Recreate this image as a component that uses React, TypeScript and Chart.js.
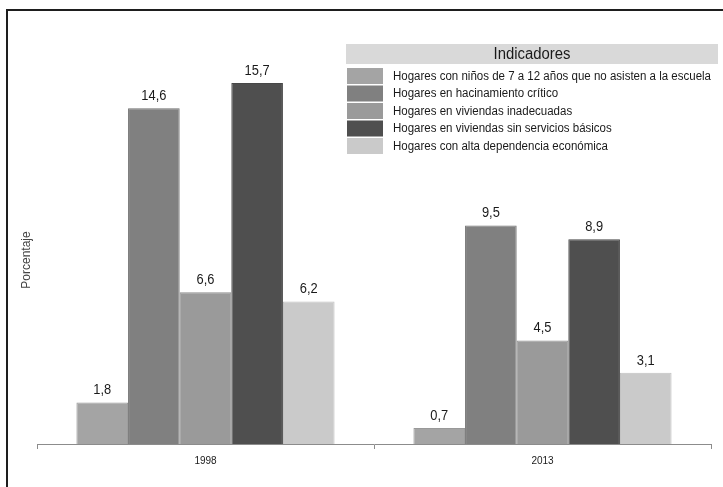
import React, { useEffect, useRef } from "react";
import { Chart, registerables } from "chart.js";

Chart.register(...registerables);

const categories = ["1998", "2013"];
const seriesLabels = [
  "Hogares con niños de 7 a 12 años que no asisten a la escuela",
  "Hogares en hacinamiento crítico",
  "Hogares en viviendas inadecuadas",
  "Hogares en viviendas sin servicios básicos",
  "Hogares con alta dependencia económica",
];
const ninosEscuela = [1.8, 0.7];
const hacinamiento = [14.6, 9.5];
const inadecuadas = [6.6, 4.5];
const sinServicios = [15.7, 8.9];
const dependencia = [6.2, 3.1];
const seriesColors = ["#a4a4a4", "#808080", "#9a9a9a", "#4f4f4f", "#cacaca"];
const seriesBorders = ["#999999", "#707070", "#8e8e8e", "#474747", "#c0c0c0"];
const legendTitle = "Indicadores";
const yTitle = "Porcentaje";

const FONT = "'Liberation Sans', Arial, sans-serif";

function drawCondensed(ctx: CanvasRenderingContext2D, text: string, x: number, y: number, sx: number, align: "left" | "center") {
  ctx.save();
  ctx.translate(x, y);
  ctx.scale(sx, 1);
  ctx.textAlign = align;
  ctx.fillText(text, 0, 0);
  ctx.restore();
}

const framePlugin = {
  id: "frame",
  beforeDraw(chart: any) {
    const ctx = chart.ctx;
    ctx.save();
    ctx.fillStyle = "#ffffff";
    ctx.fillRect(0, 0, chart.width, chart.height);
    ctx.fillStyle = "#1e1e1e";
    ctx.fillRect(6, 9, chart.width - 6, 2);
    ctx.fillRect(6, 9, 2, chart.height - 9);
    ctx.restore();
  },
};

const labelsPlugin = {
  id: "valueLabels",
  afterDatasetsDraw(chart: any) {
    const ctx = chart.ctx;
    ctx.save();
    ctx.font = `14px ${FONT}`;
    ctx.fillStyle = "#1a1a1a";
    ctx.textBaseline = "bottom";
    chart.data.datasets.forEach((ds: any, i: number) => {
      const meta = chart.getDatasetMeta(i);
      meta.data.forEach((bar: any, j: number) => {
        const v = ds.data[j];
        drawCondensed(ctx, String(v).replace(".", ","), bar.x, bar.y - 5, 0.92, "center");
      });
    });
    ctx.restore();
  },
};

const legendPlugin = {
  id: "customLegend",
  afterDraw(chart: any) {
    const ctx = chart.ctx;
    const x0 = 346;
    const x1 = 718;
    ctx.save();
    ctx.fillStyle = "#d9d9d9";
    ctx.fillRect(x0, 44, x1 - x0, 20);
    ctx.fillStyle = "#1a1a1a";
    ctx.font = `16px ${FONT}`;
    ctx.textBaseline = "middle";
    drawCondensed(ctx, legendTitle, (x0 + x1) / 2, 55, 0.93, "center");
    ctx.font = `12.5px ${FONT}`;
    let maxW = 0;
    chart.data.datasets.forEach((ds: any) => {
      maxW = Math.max(maxW, ctx.measureText(ds.label).width);
    });
    const sx = Math.min(1, 318 / maxW);
    chart.data.datasets.forEach((ds: any, i: number) => {
      const top = 68 + i * 17.5;
      ctx.fillStyle = ds.backgroundColor;
      ctx.fillRect(347, top, 36, 16);
      ctx.fillStyle = "#1a1a1a";
      drawCondensed(ctx, ds.label, 393, top + 8.5, sx, "left");
    });
    ctx.restore();
  },
};

export default function App() {
  const ref = useRef<HTMLCanvasElement | null>(null);
  useEffect(() => {
    document.body.style.margin = "0";
    const values = [ninosEscuela, hacinamiento, inadecuadas, sinServicios, dependencia];
    const chart = new Chart(ref.current as HTMLCanvasElement, {
      type: "bar",
      data: {
        labels: categories,
        datasets: values.map((d, i) => ({
          label: seriesLabels[i],
          data: d,
          backgroundColor: seriesColors[i],
          borderColor: seriesBorders[i],
          borderWidth: 1,
          categoryPercentage: 0.766,
          barPercentage: 1,
        })),
      },
      options: {
        animation: false,
        responsive: false,
        maintainAspectRatio: false,
        layout: { padding: { left: 15, right: 12, top: 76, bottom: 0 } },
        plugins: { legend: { display: false }, tooltip: { enabled: false } },
        scales: {
          x: {
            grid: {
              display: true,
              drawOnChartArea: false,
              drawTicks: true,
              tickLength: 5,
              color: "#8c8c8c",
              offset: true,
            },
            border: { display: true, color: "#8c8c8c", width: 1 },
            ticks: { font: { family: FONT, size: 10 }, color: "#1a1a1a", padding: 6 },
            afterFit: (s: any) => {
              s.height = 43;
            },
          },
          y: {
            min: 0,
            max: 16,
            grid: { display: false },
            border: { display: false },
            ticks: { display: false },
            title: {
              display: true,
              text: yTitle,
              font: { family: FONT, size: 12 },
              color: "#444444",
              padding: { top: 4, bottom: 4 },
            },
            afterFit: (s: any) => {
              s.width = 22;
            },
          },
        },
      },
      plugins: [framePlugin, labelsPlugin, legendPlugin],
    });
    return () => chart.destroy();
  }, []);
  return <canvas ref={ref} width={723} height={487} style={{ display: "block" }} />;
}
